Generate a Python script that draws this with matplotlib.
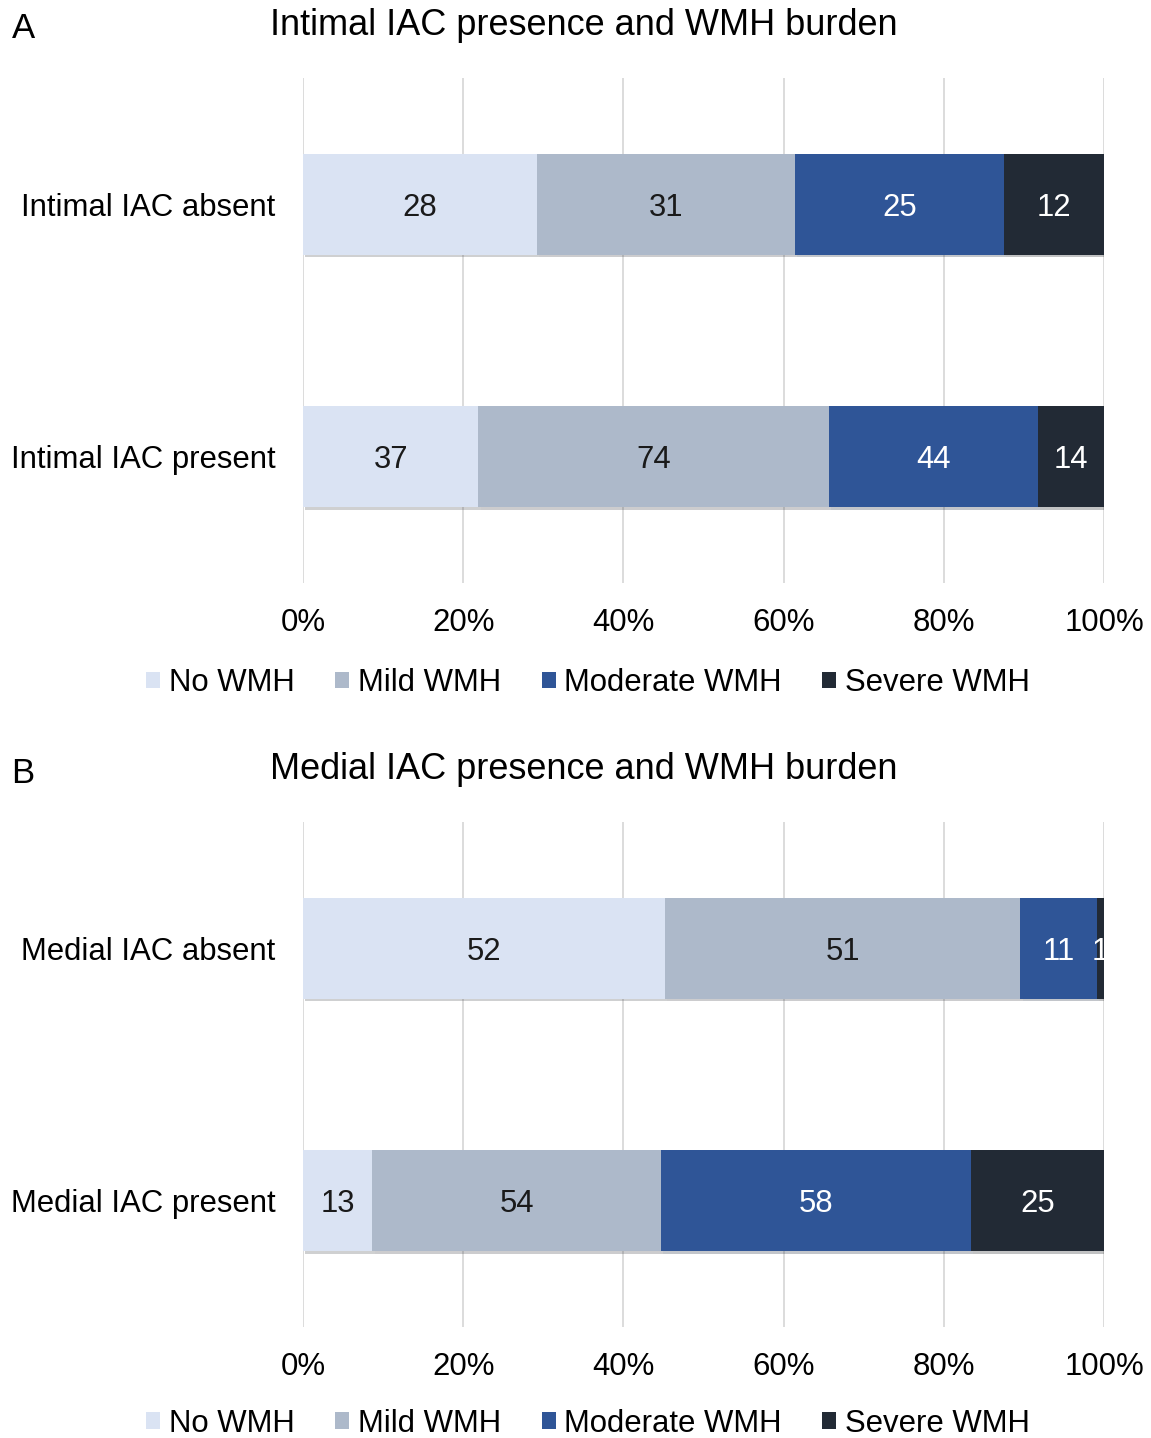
import matplotlib.pyplot as plt
import matplotlib.patheffects as pe
from matplotlib.patches import Patch
import numpy as np

plt.rcParams['font.family'] = ['Liberation Sans', 'DejaVu Sans']

CATEGORIES = ['No WMH', 'Mild WMH', 'Moderate WMH', 'Severe WMH']
COLORS = ['#DAE3F3', '#ADB9CA', '#2F5597', '#222A35']
TEXT_COLORS = ['#1a1a1a', '#1a1a1a', 'white', 'white']

intimal_groups = ['Intimal IAC absent', 'Intimal IAC present']
intimal_counts = [[28, 31, 25, 12],
                  [37, 74, 44, 14]]

medial_groups = ['Medial IAC absent', 'Medial IAC present']
medial_counts = [[52, 51, 11, 1],
                 [13, 54, 58, 25]]

FS = 22.4


def stacked_panel(ax, groups, counts):
    counts = np.array(counts, dtype=float)
    shares = counts / counts.sum(axis=1, keepdims=True) * 100
    left = np.zeros(len(groups))
    y = np.arange(len(groups))
    shadow = [pe.SimplePatchShadow(offset=(1.5, -2), alpha=0.25), pe.Normal()]
    for k in range(len(CATEGORIES)):
        bars = ax.barh(y, shares[:, k], left=left, height=0.4,
                       color=COLORS[k], zorder=3, path_effects=shadow)
        for i, b in enumerate(bars):
            ax.text(left[i] + shares[i, k] / 2, y[i], f"{int(counts[i, k])}",
                    ha='center', va='center_baseline', fontsize=FS,
                    color=TEXT_COLORS[k], zorder=4, clip_on=True)
        left += shares[:, k]
    ax.set_xlim(0, 100)
    ax.set_ylim(1.5, -0.5)
    ax.set_yticks(y)
    ax.set_yticklabels(groups, fontsize=FS)
    ax.set_xticks(np.arange(0, 101, 20))
    ax.set_xticklabels([f"{v}%" for v in range(0, 101, 20)], fontsize=FS)
    ax.tick_params(axis='both', length=0)
    ax.tick_params(axis='x', pad=18)
    ax.tick_params(axis='y', pad=20)
    ax.grid(axis='x', color='#D9D9D9', lw=1.3, zorder=0)
    for s in ax.spines.values():
        s.set_visible(False)


fig = plt.figure(figsize=(11.51, 14.38), dpi=100)
ax_a = fig.add_axes([0.2633, 0.5946, 0.6959, 0.3512])
ax_b = fig.add_axes([0.2633, 0.0772, 0.6959, 0.3512])

stacked_panel(ax_a, intimal_groups, intimal_counts)
stacked_panel(ax_b, medial_groups, medial_counts)

fig.text(0.507, 0.9826, 'Intimal IAC presence and WMH burden',
         ha='center', va='center', fontsize=26)
fig.text(0.507, 0.4652, 'Medial IAC presence and WMH burden',
         ha='center', va='center', fontsize=26)
fig.text(0.010, 0.980, 'A', ha='left', va='center', fontsize=25)
fig.text(0.010, 0.462, 'B', ha='left', va='center', fontsize=25)

handles = [Patch(facecolor=c, edgecolor='none') for c in COLORS]
for ypos in (0.5250, 0.0100):
    fig.legend(handles, CATEGORIES, loc='center', bbox_to_anchor=(0.511, ypos),
               ncol=4, frameon=False, fontsize=FS, handlelength=0.45,
               handleheight=0.45, handletextpad=0.28, columnspacing=1.3)

fig.savefig('out.png', dpi=100)
